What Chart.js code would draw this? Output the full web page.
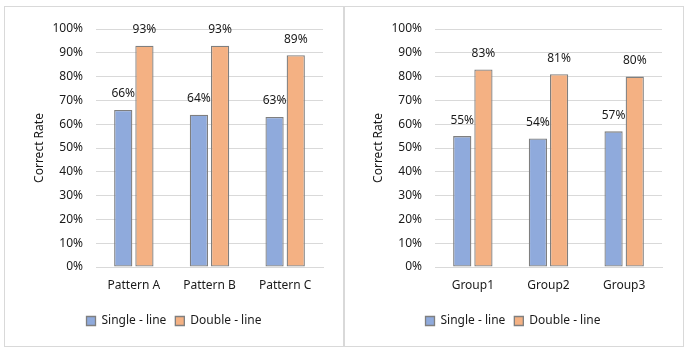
<!DOCTYPE html>
<html>
<head>
<meta charset="utf-8">
<script src="https://cdn.jsdelivr.net/npm/chart.js@4"></script>
<style>
  html, body { margin: 0; padding: 0; background: #ffffff; }
  body { width: 688px; height: 356px; position: relative; overflow: hidden; }
  .panel { position: absolute; top: 6px; width: 341px; height: 341px; box-sizing: border-box; border: 1px solid #d9d9d9; }
  .panel canvas { position: absolute; left: 0; top: 0; }
</style>
</head>
<body>
<div class="panel" style="left:4px"><canvas id="c1" width="339" height="339"></canvas></div>
<div class="panel" style="left:343px"><canvas id="c2" width="339" height="339"></canvas></div>
<script>
const seriesNames = ['Single - line', 'Double - line'];
const leftCategories = ['Pattern A', 'Pattern B', 'Pattern C'];
const leftSingle = [66, 64, 63];
const leftDouble = [93, 93, 89];
const rightCategories = ['Group1', 'Group2', 'Group3'];
const rightSingle = [55, 54, 57];
const rightDouble = [83, 81, 80];
const yAxisTitle = 'Correct Rate';
const yMin = 0, yMax = 100, yStep = 10;

const FONT = '"Noto Sans", "Liberation Sans", sans-serif';
const TEXT = '#1a1a1a';

const valueLabels = {
  id: 'valueLabels',
  afterDatasetsDraw(chart) {
    const ctx = chart.ctx;
    ctx.save();
    ctx.font = '12px ' + FONT;
    ctx.fillStyle = TEXT;
    ctx.textAlign = 'center';
    ctx.textBaseline = 'middle';
    chart.data.datasets.forEach((ds, i) => {
      const meta = chart.getDatasetMeta(i);
      meta.data.forEach((el, j) => {
        ctx.fillText(ds.data[j] + '%', el.x, el.y - 16);
      });
    });
    ctx.restore();
  }
};

function makeChart(id, categories, single, dbl) {
  return new Chart(document.getElementById(id), {
    type: 'bar',
    data: {
      labels: categories,
      datasets: [
        { label: seriesNames[0], data: single, backgroundColor: '#8FAADC', borderColor: '#7F7F7F', borderWidth: 1.3, borderSkipped: false, categoryPercentage: 0.56, barPercentage: 0.86 },
        { label: seriesNames[1], data: dbl, backgroundColor: '#F4B183', borderColor: '#7F7F7F', borderWidth: 1.3, borderSkipped: false, categoryPercentage: 0.56, barPercentage: 0.86 }
      ]
    },
    options: {
      responsive: false,
      animation: false,
      layout: { padding: { left: 20, right: 21, top: 22, bottom: 9 } },
      plugins: {
        legend: {
          position: 'bottom',
          labels: { boxWidth: 9, boxHeight: 9, padding: 9, color: TEXT, font: { family: FONT, size: 12 }, useBorderRadius: false }
        },
        tooltip: { enabled: false }
      },
      scales: {
        x: {
          grid: { display: false, drawTicks: false },
          border: { color: '#d9d9d9', width: 1 },
          ticks: { color: TEXT, font: { family: FONT, size: 12 }, padding: 11 },
          afterFit(s) { s.height = 39; }
        },
        y: {
          min: yMin, max: yMax,
          grid: { color: '#d9d9d9', drawTicks: false },
          border: { display: false },
          ticks: { stepSize: yStep, color: TEXT, font: { family: FONT, size: 12 }, padding: 13, callback: v => v + '%' },
          title: { display: true, text: yAxisTitle, color: TEXT, font: { family: FONT, size: 12 }, padding: { top: 7, bottom: 0 } },
          afterFit(s) { s.width = 71; }
        }
      }
    },
    plugins: [valueLabels]
  });
}

makeChart('c1', leftCategories, leftSingle, leftDouble);
makeChart('c2', rightCategories, rightSingle, rightDouble);
</script>
</body>
</html>
